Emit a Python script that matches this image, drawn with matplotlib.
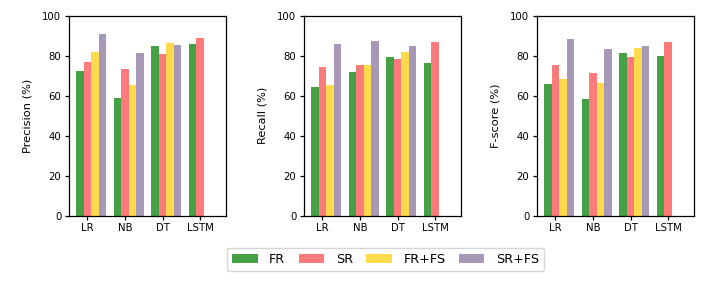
import numpy as np
import matplotlib
matplotlib.use("Agg")
import matplotlib.pyplot as plt

models = ["LR", "NB", "DT", "LSTM"]
series = ["FR", "SR", "FR+FS", "SR+FS"]
colors = ["#46a046", "#ff7b7b", "#ffda4a", "#a898b8"]

precision = {
    "FR":    [72.5, 58.7, 85.0, 86.0],
    "SR":    [77.0, 73.2, 80.7, 88.7],
    "FR+FS": [81.8, 65.5, 86.2, np.nan],
    "SR+FS": [90.8, 81.2, 85.3, np.nan],
}
recall = {
    "FR":    [64.5, 72.0, 79.5, 76.3],
    "SR":    [74.3, 75.5, 78.3, 86.7],
    "FR+FS": [65.3, 75.5, 82.0, np.nan],
    "SR+FS": [86.0, 87.5, 84.8, np.nan],
}
fscore = {
    "FR":    [66.0, 58.3, 81.5, 80.0],
    "SR":    [75.5, 71.2, 79.2, 87.0],
    "FR+FS": [68.5, 66.5, 83.7, np.nan],
    "SR+FS": [88.2, 83.5, 84.8, np.nan],
}
panels = [("Precision (%)", precision), ("Recall (%)", recall), ("F-score (%)", fscore)]
yticks = [0, 20, 40, 60, 80, 100]

W, H = 706, 290
fig = plt.figure(figsize=(W / 100, H / 100), dpi=100)
lefts = [69, 304, 537]
aw = 157
bottom_px, top_px = 215.7, 15.7
width = 0.2
x = np.arange(len(models))
handles = []
for i, (ylabel, data) in enumerate(panels):
    ax = fig.add_axes([lefts[i] / W, 1 - bottom_px / H, aw / W, (bottom_px - top_px) / H])
    for j, s in enumerate(series):
        b = ax.bar(x + (j - 1) * width, data[s], width, color=colors[j], label=s)
        if i == 0:
            handles.append(b)
    ax.set_xticks(x)
    ax.set_xticklabels(models, fontsize=7.3)
    ax.set_yticks(yticks)
    ax.set_yticklabels([str(t) for t in yticks], fontsize=7.3)
    ax.set_ylim(0, 100)
    ax.set_xlim(-0.49, 3.69)
    ax.set_ylabel(ylabel, fontsize=8.2, labelpad=7)
    ax.tick_params(length=3, width=0.9, pad=2.5)
    for sp in ax.spines.values():
        sp.set_linewidth(0.9)

fig.legend(handles, series, loc="upper center", bbox_to_anchor=(385.5 / W, 1 - 247.5 / H),
           ncol=4, fontsize=9.2, frameon=True, borderaxespad=0, columnspacing=1.05,
           handletextpad=0.9)
fig.savefig("out.png", dpi=100)
